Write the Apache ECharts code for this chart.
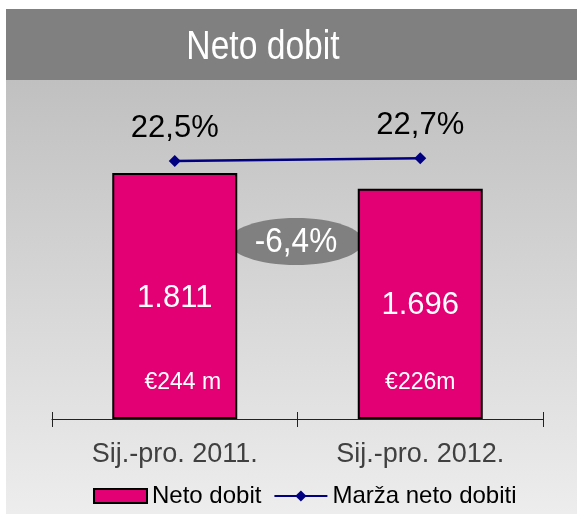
<!DOCTYPE html>
<html>
<head>
<meta charset="utf-8">
<script src="https://cdn.jsdelivr.net/npm/echarts@6/dist/echarts.min.js"></script>
<style>
  html, body { margin: 0; padding: 0; background: #fff; }
  .wrap { position: relative; width: 577px; height: 515px; overflow: hidden; }
  .panel {
    position: absolute; left: 6px; top: 9px; right: 0; bottom: 1px;
    background: linear-gradient(to bottom, #808080 0, #808080 71px, #c0c0c0 71px, #ededed 100%);
  }
  #chart { position: absolute; left: 0; top: 0; width: 577px; height: 515px; }
</style>
</head>
<body>
<div class="wrap">
  <div class="panel"></div>
  <div id="chart"></div>
</div>
<script>
const categories = ['Sij.-pro. 2011.', 'Sij.-pro. 2012.']
const netProfit = [1811, 1696]
const profitMargin = [22.5, 22.7]
const notes = ['€244 m', '€226m']

const thousands = (v) => String(v).replace(/\B(?=(\d{3})+(?!\d))/g, '.')
const pct = (v) => v.toFixed(1).replace('.', ',') + '%'
const change = pct((netProfit[1] / netProfit[0] - 1) * 100)

const FONT = "'Liberation Sans', Arial, sans-serif"
const NOTE_Y = 265

const chart = echarts.init(document.getElementById('chart'), null, { renderer: 'canvas' })
chart.setOption({
  backgroundColor: 'transparent',
  animation: false,
  legend: {
    left: 88, top: 479, itemWidth: 53, itemHeight: 14, itemGap: 12,
    textStyle: { color: '#000', fontSize: 24, fontFamily: FONT },
    data: [
      { name: 'Neto dobit', icon: 'rect', itemStyle: { color: '#e20074', borderColor: '#000', borderWidth: 2 } },
      { name: 'Marža neto dobiti' },
    ],
  },
  grid: { left: 52, right: 34, top: 93, bottom: 96 },
  xAxis: [{
    type: 'category', data: categories,
    axisLine: { lineStyle: { color: '#222', width: 1 } },
    axisTick: { show: true, length: 8, lineStyle: { color: '#222' } },
    axisLabel: { color: '#404040', fontSize: 27, fontFamily: FONT, margin: 22 },
  }, {
    type: 'category', data: categories, position: 'bottom',
    axisLine: { show: false },
    axisTick: { show: true, inside: true, length: 7, lineStyle: { color: '#222' } },
    axisLabel: { show: false },
  }],
  yAxis: [
    { type: 'value', min: 0, max: 2400, show: false },
    { type: 'value', min: 3.5, max: 27.5, show: false },
  ],
  series: [{
    name: 'Neto dobit', type: 'bar', data: netProfit, barWidth: 125,
    itemStyle: { color: '#e20074', borderColor: '#000', borderWidth: 2 },
    label: {
      show: true, position: 'inside', offset: [0, 2], color: '#fff', fontSize: 31, fontFamily: FONT,
      formatter: ({ value }) => thousands(value),
    },
    markPoint: {
      symbol: 'circle', symbolSize: 1,
      itemStyle: { color: 'rgba(0,0,0,0)' },
      label: { show: true, position: 'inside', color: '#fff', fontSize: 23, fontFamily: FONT, formatter: (p) => p.data.note },
      data: notes.map((n, i) => ({ coord: [i, NOTE_Y], note: n, label: { offset: [i === 0 ? 8 : 0, 0] } })),
    },
  }, {
    name: 'Marža neto dobiti', type: 'line', yAxisIndex: 1, data: profitMargin, z: 5,
    symbol: 'diamond', symbolSize: 12,
    lineStyle: { color: '#000080', width: 2.5 },
    itemStyle: { color: '#000080' },
    label: {
      show: true, position: 'top', distance: 11, color: '#000', fontSize: 31, fontFamily: FONT,
      formatter: ({ value }) => pct(value),
    },
  }],
  graphic: [{
    type: 'text', x: 263, y: 48, scaleX: 0.82,
    style: { text: 'Neto dobit', fill: '#fff', fontSize: 41, fontFamily: FONT, align: 'center', verticalAlign: 'middle' },
  }, {
    type: 'group', left: 229, top: 218, z: 10,
    children: [
      { type: 'ellipse', shape: { cx: 67, cy: 23.5, rx: 67, ry: 23.5 }, style: { fill: '#808080' } },
      { type: 'text', x: 67, y: 24, scaleX: 0.9, style: { text: change, fill: '#fff', fontSize: 35, fontFamily: FONT, align: 'center', verticalAlign: 'middle' } },
    ],
  }],
})
window.addEventListener('resize', () => chart.resize())
</script>
</body>
</html>
